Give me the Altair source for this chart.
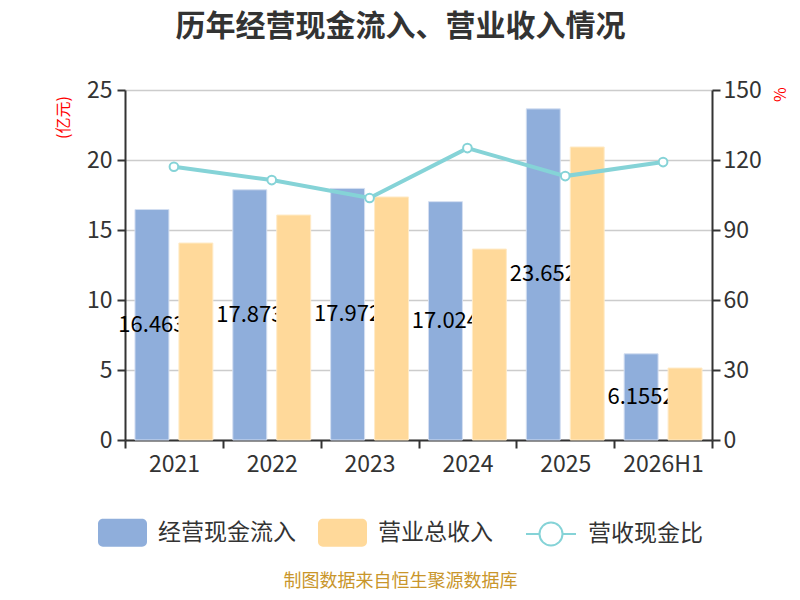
import altair as alt
import pandas as pd

FONT = "Noto Sans CJK SC"

years = ["2021", "2022", "2023", "2024", "2025", "2026H1"]
cash_in = [16.463, 17.873, 17.972, 17.024, 23.652, 6.1552]
cash_labels = ["16.463", "17.873", "17.972", "17.024", "23.652", "6.1552"]
revenue = [14.07, 16.07, 17.36, 13.64, 20.93, 5.14]
ratio = [117.1, 111.4, 103.7, 125.1, 113.1, 119.1]

s1, s2, s3 = "经营现金流入", "营业总收入", "营收现金比"
title_text = "历年经营现金流入、营业收入情况"
source_text = "制图数据来自恒生聚源数据库"

bars_df = pd.DataFrame({
    "year": years * 2,
    "series": [s1] * len(years) + [s2] * len(years),
    "value": cash_in + revenue,
})
labels_df = pd.DataFrame({
    "year": years,
    "series": [s1] * len(years),
    "value": cash_in,
    "label": cash_labels,
})
line_df = pd.DataFrame({"year": years, "name": [s3] * len(years), "ratio": ratio})

BLUE = "#8FAEDB"
ORANGE = "#FFD99A"
TEAL = "#85D3D7"

RECT_PATH = ("M-0.8,-0.57H0.8A0.2,0.2,0,0,1,1,-0.37V0.37A0.2,0.2,0,0,1,0.8,0.57"
             "H-0.8A0.2,0.2,0,0,1,-1,0.37V-0.37A0.2,0.2,0,0,1,-0.8,-0.57Z")
LINE_PATH = ("M-1,0H-0.46M0.46,0H1M-0.46,0A0.46,0.46,0,1,0,0.46,0"
             "A0.46,0.46,0,1,0,-0.46,0Z")

x_enc = alt.X(
    "year:N", sort=years,
    scale=alt.Scale(paddingInner=0, paddingOuter=0),
    axis=alt.Axis(
        title=source_text, titleColor="#C9962B", titleFont=FONT, titleFontSize=18,
        titleFontWeight="normal", titleX=275, titleY=141, titleAlign="center",
        titleBaseline="middle", labelAngle=0, tickBand="extent", labelPadding=5,
        grid=False,
    ),
)
xoff_enc = alt.XOffset(
    "series:N", sort=[s1, s2],
    scale=alt.Scale(domain=[s1, s2], paddingInner=0.227, paddingOuter=0.227),
)
y_left_axis = alt.Axis(
    values=[0, 5, 10, 15, 20, 25], title="(亿元)", titleColor="red", titleFont=FONT,
    titleFontSize=16, titleFontWeight="normal", titleAngle=270, titleX=-62, titleY=27,
    titleAlign="center", titleBaseline="middle", grid=True, labelPadding=5,
)
y_left_scale = alt.Scale(domain=[0, 25], nice=False)

fill_enc = alt.Fill(
    "series:N",
    scale=alt.Scale(domain=[s1, s2], range=[BLUE, ORANGE]),
    legend=alt.Legend(
        title=None, orient="none", legendX=-27, legendY=418, direction="horizontal",
        symbolType=RECT_PATH, symbolSize=2401, symbolStrokeWidth=0,
        labelFont=FONT, labelFontSize=23, labelColor="#333", labelOffset=11,
        columnPadding=22, padding=0,
    ),
)

blue_bars = alt.Chart(bars_df).transform_filter(
    alt.datum.series == s1
).mark_bar(stroke="#D3DEF1", strokeWidth=1).encode(
    x=x_enc, xOffset=xoff_enc,
    y=alt.Y("value:Q", scale=y_left_scale, axis=y_left_axis),
    fill=fill_enc,
)

value_text = alt.Chart(labels_df).transform_calculate(
    mid="datum.value / 2"
).mark_text(font=FONT, fontSize=22, color="black", align="center", baseline="middle").encode(
    x=x_enc, xOffset=xoff_enc,
    y=alt.Y("mid:Q", scale=y_left_scale, axis=y_left_axis),
    text="label:N",
)

orange_bars = alt.Chart(bars_df).transform_filter(
    alt.datum.series == s2
).mark_bar(stroke="#FFEBC8", strokeWidth=1).encode(
    x=x_enc, xOffset=xoff_enc,
    y=alt.Y("value:Q", scale=y_left_scale, axis=y_left_axis),
    fill=fill_enc,
)

bar_layer = alt.layer(blue_bars, value_text, orange_bars)

y_right = alt.Y(
    "ratio:Q", scale=alt.Scale(domain=[0, 150], nice=False),
    axis=alt.Axis(
        orient="right", values=[0, 30, 60, 90, 120, 150], grid=False, title="%",
        titleColor="red", titleFont=FONT, titleFontSize=16, titleFontWeight="normal",
        titleAngle=270, titleX=68, titleY=4, titleAlign="center", titleBaseline="middle",
        labelPadding=3,
    ),
)

line = alt.Chart(line_df).mark_line(strokeWidth=4).encode(
    x=x_enc, y=y_right,
    stroke=alt.Stroke(
        "name:N", scale=alt.Scale(domain=[s3], range=[TEAL]),
        legend=alt.Legend(
            title=None, orient="none", legendX=400, legendY=418,
            symbolType=LINE_PATH, symbolSize=2500, symbolStrokeWidth=2,
            symbolFillColor="white", labelFont=FONT, labelFontSize=23,
            labelColor="#333", labelOffset=11, padding=0,
        ),
    ),
)
points = alt.Chart(line_df).mark_point(
    shape="circle", filled=True, fill="white", stroke=TEAL, strokeWidth=2,
    size=75, opacity=1,
).encode(x=x_enc, y=y_right)

line_layer = alt.layer(line, points)

chart = alt.layer(bar_layer, line_layer).resolve_scale(
    y="independent"
).properties(
    width=587, height=350,
    padding={"left": 117, "top": 82, "right": 78, "bottom": 150},
    autosize=alt.AutoSizeParams(type="none"),
    title=alt.Title(
        title_text, font=FONT, fontSize=30, fontWeight="bold", color="#333",
        anchor="middle", frame="group", offset=37, dx=-18,
    ),
).configure_axis(
    labelFont=FONT, labelFontSize=23, labelColor="#333",
    domainColor="#333", domainWidth=2, tickColor="#333", tickWidth=2, tickSize=8,
    gridColor="#CCCCCC", gridWidth=1.5,
).configure_view(strokeWidth=0)

chart.save("out.html", embed_options={"renderer": "svg", "actions": False})
